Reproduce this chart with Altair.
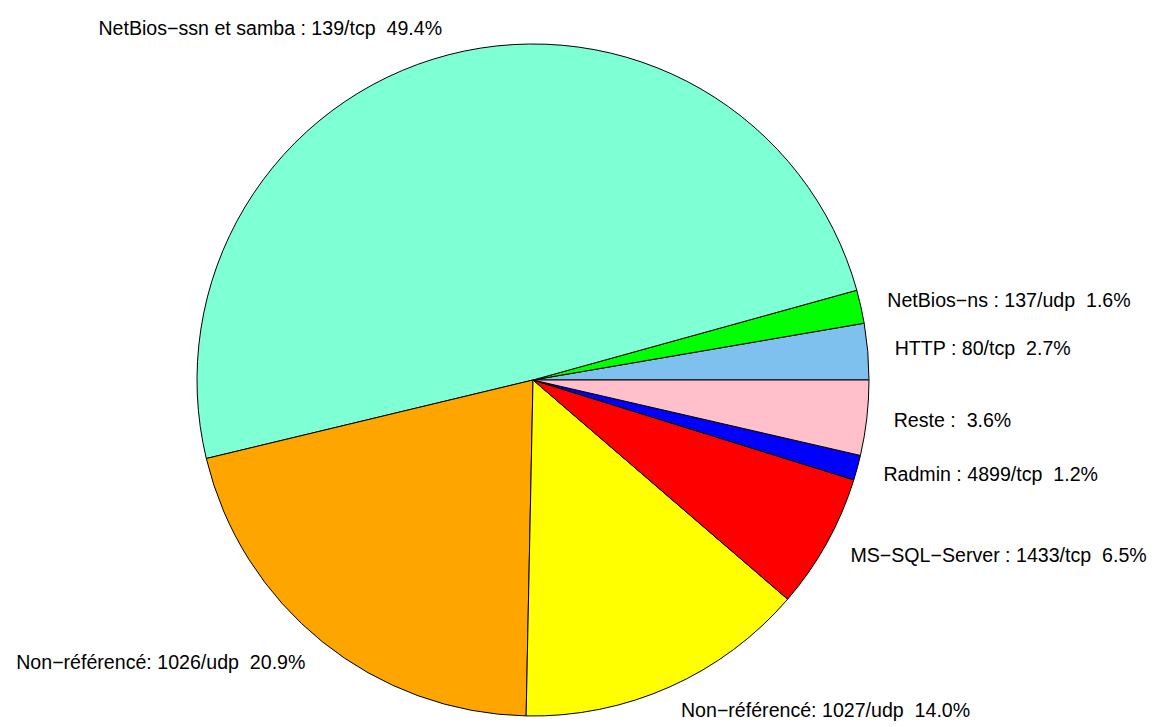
import math
import altair as alt
import pandas as pd

NB = "\u00a0"
labels = [
    f"HTTP : 80/tcp {NB}2.7%",
    f"NetBios\u2212ns : 137/udp {NB}1.6%",
    f"NetBios\u2212ssn et samba : 139/tcp {NB}49.4%",
    f"Non\u2212référencé: 1026/udp {NB}20.9%",
    f"Non\u2212référencé: 1027/udp {NB}14.0%",
    f"MS\u2212SQL\u2212Server : 1433/tcp {NB}6.5%",
    f"Radmin : 4899/tcp {NB}1.2%",
    f"Reste : {NB}3.6%",
]
pcts = [2.7, 1.6, 49.4, 20.9, 14.0, 6.5, 1.2, 3.6]
colors = ["#7EC0EE", "#00FF00", "#7FFFD4", "#FFA500", "#FFFF00", "#FF0000", "#0000FF", "#FFC0CB"]

total = sum(pcts)
df = pd.DataFrame({"label": labels, "pct": pcts, "color": colors, "order": list(range(len(pcts)))})

CX, CY, R = 525, 372, 336
LR = 363
theta_scale = alt.Scale(domain=[0, total], range=[2.5 * math.pi, 0.5 * math.pi])

base = alt.Chart(df).transform_window(
    end="sum(pct)", sort=[alt.SortField("order")], frame=[None, 0]
).transform_calculate(
    start="datum.end - datum.pct",
    mid="datum.end - datum.pct / 2",
).transform_calculate(
    right=f"cos(2 * PI * datum.mid / {total}) >= 0"
)

arcs = base.mark_arc(stroke="black", strokeWidth=1).encode(
    theta=alt.Theta("start:Q", scale=theta_scale, stack=None),
    theta2="end:Q",
    radius=alt.value(R),
    x=alt.value(CX),
    y=alt.value(CY),
    fill=alt.Fill("color:N", scale=None),
)

text_common = dict(font="Liberation Sans", fontSize=19.6, color="black", baseline="middle")

right_labels = base.transform_filter("datum.right").mark_text(align="left", **text_common).encode(
    theta=alt.Theta("mid:Q", scale=theta_scale, stack=None),
    radius=alt.value(LR),
    x=alt.value(CX),
    y=alt.value(CY),
    text="label:N",
)

left_labels = base.transform_filter("!datum.right").mark_text(align="right", **text_common).encode(
    theta=alt.Theta("mid:Q", scale=theta_scale, stack=None),
    radius=alt.value(LR),
    x=alt.value(CX),
    y=alt.value(CY),
    text="label:N",
)

chart = alt.layer(arcs, right_labels, left_labels).properties(
    width=1142, height=719, autosize=alt.AutoSizeParams(type="none"), padding=0
).configure_view(stroke=None)

chart.save("out.html", embed_options={"renderer": "svg", "actions": False})
